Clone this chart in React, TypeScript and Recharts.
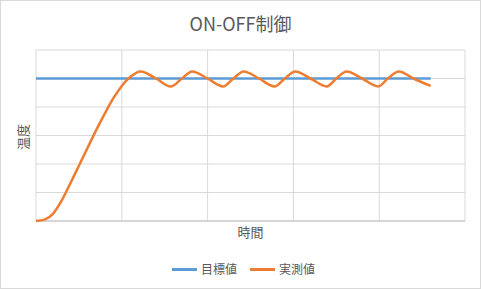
import React from "react";
import { LineChart, Line, XAxis, YAxis, CartesianGrid, ReferenceLine } from "recharts";

const timeValues = [
  0, 1, 2, 3, 4, 5, 6, 7, 8, 9, 10, 11,
  12.2, 14, 15.7, 17,
  18.2, 20, 21.8, 23,
  24.2, 26, 27.8, 29,
  30.2, 32, 33.9, 35,
  36.2, 38, 39.9, 41,
  42.3, 44, 46,
];
const measuredValues = [
  0, 0.5, 2.6, 7.2, 13.2, 19.4, 25.6, 31.8, 37.6, 43.0, 47.4, 50.6,
  52.5, 50, 47.2, 50,
  52.5, 50, 47.2, 50,
  52.5, 50, 47.2, 50,
  52.5, 50, 47.2, 50,
  52.5, 50, 47.2, 50,
  52.5, 50, 47.4,
];
const targetValue = 50;
const xTicks = [0, 10, 20, 30, 40, 50];
const yTicks = [0, 10, 20, 30, 40, 50, 60];

const title = "ON-OFF制御";
const xTitle = "時間";
const yTitle = "温度";
const seriesNames = ["目標値", "実測値"];
const seriesColors = ["#5B9BD5", "#ED7D31"];

const data = timeValues.map((t, i) => ({ t, target: targetValue, measured: measuredValues[i] }));

const FONT = "'Noto Sans CJK JP', 'Noto Sans', sans-serif";
const TEXT = "#595959";

export default function App() {
  return (
    <div style={{ position: "absolute", left: 0, top: 0, width: 481, height: 289, background: "#fff", fontFamily: FONT }}>
      <div style={{ position: "absolute", left: 0, top: 0, width: 481, height: 289, boxSizing: "border-box", border: "1px solid #d9d9d9" }} />
      <LineChart width={481} height={289} data={data} margin={{ top: 50, left: 36, right: 16, bottom: 68 }}>
        <CartesianGrid stroke="#d9d9d9" strokeWidth={1} />
        <XAxis type="number" dataKey="t" domain={[0, 50]} ticks={xTicks} hide />
        <YAxis type="number" domain={[0, 60]} ticks={yTicks} hide />
        <ReferenceLine y={0} stroke="#bfbfbf" strokeWidth={1} />
        <Line type="monotone" dataKey="target" stroke={seriesColors[0]} strokeWidth={2.5} dot={false} isAnimationActive={false} />
        <Line type="monotone" dataKey="measured" stroke={seriesColors[1]} strokeWidth={2.5} dot={false} isAnimationActive={false} />
      </LineChart>
      <div style={{ position: "absolute", left: 0, width: 481, top: 10, textAlign: "center", fontSize: 18, color: TEXT, lineHeight: "26px" }}>{title}</div>
      <div style={{ position: "absolute", left: 36, width: 429, top: 222, textAlign: "center", fontSize: 13, color: TEXT, lineHeight: "20px" }}>{xTitle}</div>
      <div style={{ position: "absolute", left: 23, top: 137, fontSize: 13, color: TEXT, lineHeight: "16px", transform: "translate(-50%, -50%) rotate(-90deg)", whiteSpace: "nowrap" }}>{yTitle}</div>
      <div style={{ position: "absolute", left: 3, width: 481, top: 260, display: "flex", justifyContent: "center", alignItems: "center", fontSize: 12, color: TEXT, lineHeight: "18px" }}>
        {seriesNames.map((n, i) => (
          <div key={n} style={{ display: "flex", alignItems: "center", marginLeft: i === 0 ? 0 : 13 }}>
            <div style={{ width: 25, height: 3, background: seriesColors[i], marginRight: 4 }} />
            <span>{n}</span>
          </div>
        ))}
      </div>
    </div>
  );
}
